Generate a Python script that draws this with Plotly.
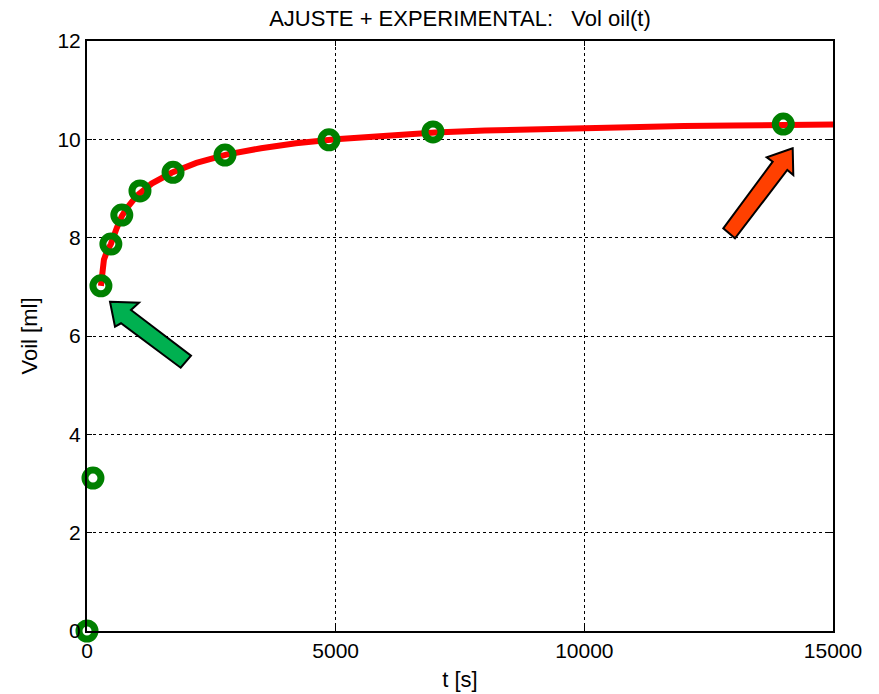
import plotly.graph_objects as go

t_exp = [0, 120, 280, 480, 700, 1065, 1730, 2775, 4866, 6957, 14000]
v_exp = [0.0, 3.11, 7.02, 7.87, 8.46, 8.95, 9.33, 9.68, 9.99, 10.15, 10.31]

# fitted curve
t_fit = [280, 340, 400, 480, 600, 700, 800, 1000, 1300, 1700, 2200, 2800, 3500, 4200,
         5000, 6000, 7000, 8000, 9000, 10000, 11000, 12000, 13000, 14000, 15000]
v_fit = [7.02, 7.55, 7.72, 7.87, 8.2, 8.44, 8.6, 8.85, 9.1, 9.32, 9.52, 9.69, 9.82, 9.92,
         10.0, 10.08, 10.14, 10.18, 10.21, 10.23, 10.25, 10.27, 10.28, 10.29, 10.30]

x_ticks = [0, 5000, 10000, 15000]
y_ticks = [0, 2, 4, 6, 8, 10, 12]

W, H = 879, 694
L, R, T, B = 87, 46, 41, 63
PW, PH = W - L - R, H - T - B


def px_path(points):
    """polygon given in pixel coords -> paper-coordinate SVG path"""
    parts = []
    for i, (px, py) in enumerate(points):
        xp = (px - L) / PW
        yp = (H - B - py) / PH
        parts.append(("M" if i == 0 else "L") + f"{xp:.5f},{yp:.5f}")
    return " ".join(parts) + " Z"


green_arrow = [(110, 301.7), (139, 302.7), (131, 310), (191, 355.7),
               (180.7, 367.7), (121, 323.3), (115, 326.7)]
red_arrow = [(792.7, 148.3), (766.7, 157.3), (772.7, 161.7), (723.3, 228.3),
             (735, 238.3), (787.3, 170), (793.3, 175)]

fig = go.Figure()
fig.add_trace(go.Scatter(x=t_fit, y=v_fit, mode="lines",
                         line=dict(color="rgb(255,0,0)", width=6),
                         cliponaxis=False, showlegend=False))
fig.add_trace(go.Scatter(x=t_exp, y=v_exp, mode="markers",
                         marker=dict(symbol="circle-open", size=16, color="rgb(0,128,0)",
                                     line=dict(width=7, color="rgb(0,128,0)")),
                         cliponaxis=False, showlegend=False))

fig.add_shape(type="path", xref="paper", yref="paper", path=px_path(green_arrow),
              fillcolor="#00B050", line=dict(color="black", width=2))
fig.add_shape(type="path", xref="paper", yref="paper", path=px_path(red_arrow),
              fillcolor="#FF4000", line=dict(color="black", width=2))

font = "Liberation Sans, Arial, sans-serif"
axis_common = dict(showline=True, linecolor="black", linewidth=2, mirror="ticks",
                   ticks="inside", ticklen=5, tickcolor="black", tickwidth=1,
                   showgrid=True, gridcolor="black", gridwidth=1, griddash="dot",
                   zeroline=False, automargin=False,
                   tickfont=dict(family=font, size=21, color="black"))

fig.update_layout(
    width=W, height=H,
    margin=dict(l=L, r=R, t=T, b=B),
    paper_bgcolor="white", plot_bgcolor="white",
    title=dict(text="AJUSTE + EXPERIMENTAL:&nbsp;&nbsp; Vol oil(t)", x=(L + PW / 2) / W,
               xanchor="center", y=1 - 18 / H, yanchor="middle",
               font=dict(family=font, size=22, color="black")),
    xaxis=dict(range=[0, 15000], tickvals=x_ticks, tickformat="d",
               title=dict(text="t [s]", standoff=10, font=dict(family=font, size=22, color="black")),
               **axis_common),
    yaxis=dict(range=[0, 12], tickvals=y_ticks,
               title=dict(text="Voil [ml]", standoff=14, font=dict(family=font, size=22, color="black")),
               **axis_common),
)

fig.write_html("out.html")
